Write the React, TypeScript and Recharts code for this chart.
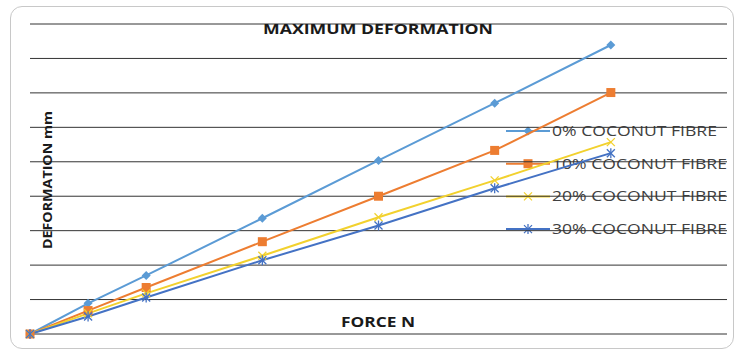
import { LineChart, Line, XAxis, YAxis, CartesianGrid } from "recharts";

const force = [0, 0.5, 1, 2, 3, 4, 5];
const fibre0 = [0, 0.89, 1.7, 3.36, 5.04, 6.7, 8.39];
const fibre10 = [0, 0.68, 1.35, 2.68, 4.0, 5.33, 7.01];
const fibre20 = [0, 0.6, 1.18, 2.27, 3.39, 4.46, 5.57];
const fibre30 = [0, 0.51, 1.06, 2.14, 3.15, 4.23, 5.25];
const yTicks = [0, 1, 2, 3, 4, 5, 6, 7, 8, 9];

const data = force.map((f, i) => ({
  force: f,
  f0: fibre0[i],
  f10: fibre10[i],
  f20: fibre20[i],
  f30: fibre30[i],
}));

const series = [
  { key: "f0", name: "0% COCONUT FIBRE", color: "#5B9BD5", marker: "diamond" },
  { key: "f10", name: "10% COCONUT FIBRE", color: "#ED7D31", marker: "square" },
  { key: "f20", name: "20% COCONUT FIBRE", color: "#F2D12E", marker: "x" },
  { key: "f30", name: "30% COCONUT FIBRE", color: "#4472C4", marker: "star" },
];

function Marker({ cx, cy, type, color }: { cx: number; cy: number; type: string; color: string }) {
  if (cx == null || cy == null) return null;
  if (type === "diamond") {
    const r = 4.5;
    return <polygon points={`${cx},${cy - r} ${cx + r},${cy} ${cx},${cy + r} ${cx - r},${cy}`} fill={color} />;
  }
  if (type === "square") {
    return <rect x={cx - 4.5} y={cy - 4.5} width={9} height={9} fill={color} />;
  }
  const r = 4;
  return (
    <g stroke={color} strokeWidth={1.3}>
      <line x1={cx - r} y1={cy - r} x2={cx + r} y2={cy + r} />
      <line x1={cx - r} y1={cy + r} x2={cx + r} y2={cy - r} />
      {type === "star" && <line x1={cx} y1={cy - r - 1} x2={cx} y2={cy + r + 1} />}
    </g>
  );
}

function LegendBox() {
  return (
    <svg width={230} height={120} style={{ position: "absolute", left: 506, top: 117 }}>
      {series.map((s, i) => {
        const y = 14 + i * 32.7;
        return (
          <g key={s.key}>
            <line x1={0} y1={y} x2={44} y2={y} stroke={s.color} strokeWidth={2} />
            <Marker cx={22} cy={y} type={s.marker} color={s.color} />
            <text
              x={46}
              y={y + 5}
              fontSize={14}
              fill="#404040"
              fontFamily="'Open Sans', sans-serif"
              textLength={s.name.startsWith("0") ? 165 : 175}
              lengthAdjust="spacingAndGlyphs"
            >
              {s.name}
            </text>
          </g>
        );
      })}
    </svg>
  );
}

export default function App() {
  return (
    <div style={{ position: "absolute", left: 0, top: 0, width: 740, height: 352, background: "#fff" }}>
      <div
        style={{
          position: "absolute",
          left: 10,
          top: 6,
          width: 724,
          height: 343,
          border: "1px solid #c8c8c8",
          borderRadius: 12,
          boxSizing: "border-box",
        }}
      />
      <LegendBox />
      <div style={{ position: "absolute", left: 0, top: 0 }}>
        <LineChart width={740} height={352} data={data} margin={{ top: 24, right: 13, bottom: 18, left: 30 }}>
          <CartesianGrid vertical={false} stroke="#333" strokeWidth={1} />
          <XAxis dataKey="force" type="number" domain={[0, 6]} hide />
          <YAxis domain={[0, 9]} ticks={yTicks} hide />
          {series.map((s) => (
            <Line
              key={s.key}
              dataKey={s.key}
              name={s.name}
              stroke={s.color}
              strokeWidth={2}
              isAnimationActive={false}
              dot={(p: any) => <Marker key={p.index} cx={p.cx} cy={p.cy} type={s.marker} color={s.color} />}
            />
          ))}
          <text
            x={378}
            y={34}
            textAnchor="middle"
            fontSize={14}
            fontWeight="bold"
            fill="#1a1a1a"
            fontFamily="'Open Sans', sans-serif"
            textLength={230}
            lengthAdjust="spacingAndGlyphs"
          >
            MAXIMUM DEFORMATION
          </text>
          <text
            x={378}
            y={327}
            textAnchor="middle"
            fontSize={14}
            fontWeight="bold"
            fill="#1a1a1a"
            fontFamily="'Open Sans', sans-serif"
            textLength={74}
            lengthAdjust="spacingAndGlyphs"
          >
            FORCE N
          </text>
          <text
            x={52}
            y={180}
            textAnchor="middle"
            fontSize={13}
            fontWeight="bold"
            fill="#1a1a1a"
            fontFamily="'Open Sans', sans-serif"
            transform="rotate(-90 52 180)"
            textLength={138}
            lengthAdjust="spacingAndGlyphs"
          >
            DEFORMATION mm
          </text>
        </LineChart>
      </div>
    </div>
  );
}
